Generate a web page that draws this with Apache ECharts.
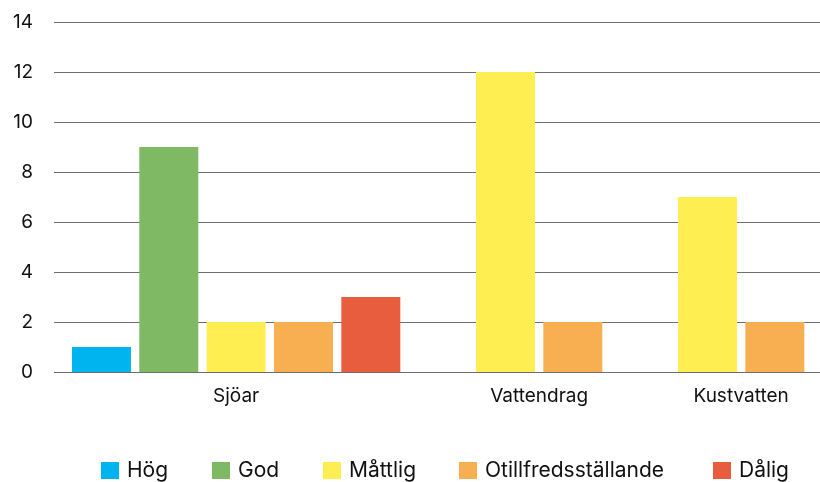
<!DOCTYPE html>
<html>
<head>
<meta charset="utf-8">
<script src="https://cdn.jsdelivr.net/npm/echarts@6/dist/echarts.min.js"></script>
<style>
  html, body { margin: 0; padding: 0; background: #fff; }
  #chart { width: 820px; height: 482px; }
</style>
</head>
<body>
<div id="chart"></div>
<script>
// Antal vattenförekomster per statusklass
const groups = ['Sjöar', 'Vattendrag', 'Kustvatten'];
const classes = ['Hög', 'God', 'Måttlig', 'Otillfredsställande', 'Dålig'];
const hog = [1, null, null];
const god = [9, null, null];
const mattlig = [2, 12, 7];
const otillfreds = [2, 2, 2];
const dalig = [3, null, null];
const yTicks = [0, 2, 4, 6, 8, 10, 12, 14];

const colors = ['#00B5EF', '#80B963', '#FFEE52', '#F8AF51', '#E95D3F'];
const legendLefts = [101, 212, 323, 459, 713];
const FONT = 'Inter';

const valuesByClass = [hog, god, mattlig, otillfreds, dalig];

// Each group only gets a slot for the classes it has, with an empty slot between groups
const slots = [];          // {cls, group}
const groupSpans = [];     // first/last slot index per group
groups.forEach((g, gi) => {
  const first = slots.length;
  valuesByClass.forEach((vals, ci) => {
    if (vals[gi] !== null) slots.push({ cls: ci, group: gi });
  });
  groupSpans.push([first, slots.length - 1]);
  if (gi < groups.length - 1) slots.push(null);
});

// Label axis has a tick at every half slot; group label sits at the middle of its slots
const labelPositions = new Array(slots.length * 2 + 1).fill('');
groupSpans.forEach(([a, b], gi) => { labelPositions[a + b + 1] = groups[gi]; });

const series = classes.map((name, ci) => ({
  name,
  type: 'bar',
  xAxisIndex: 1,
  yAxisIndex: 1,
  barGap: '-100%',
  barWidth: '87.6%',
  itemStyle: { color: colors[ci] },
  data: slots.map(s => (s && s.cls === ci) ? valuesByClass[ci][s.group] : null)
}));

// one legend entry per class, placed along the bottom
const legends = classes.map((name, i) => ({
  data: [name],
  left: legendLefts[i],
  top: 460,
  padding: 0,
  itemWidth: 18,
  itemHeight: 17,
  icon: 'rect',
  textStyle: { fontFamily: FONT, fontSize: 21, color: '#111', padding: [0, 0, 0, 3] }
}));

const chart = echarts.init(document.getElementById('chart'), null, { renderer: 'canvas' });
chart.setOption({
  animation: false,
  backgroundColor: '#ffffff',
  textStyle: { fontFamily: FONT },
  legend: legends,
  grid: [
    { left: 54, right: 0, top: 22, bottom: 110 },
    { left: 67.8, right: 11.5, top: 22, bottom: 110 }
  ],
  xAxis: [
    { type: 'category', gridIndex: 0, data: [''], show: false },
    { type: 'category', gridIndex: 1, data: slots.map((s, i) => String(i)), show: false },
    {
      type: 'category', gridIndex: 1, position: 'bottom', boundaryGap: false,
      data: labelPositions,
      axisLine: { show: false }, axisTick: { show: false },
      axisLabel: { interval: 0, margin: 15, fontFamily: FONT, fontSize: 19, color: '#111' }
    }
  ],
  yAxis: [
    {
      type: 'value', gridIndex: 0, min: yTicks[0], max: yTicks[yTicks.length - 1], interval: 2,
      axisLine: { show: false }, axisTick: { show: false },
      axisLabel: { margin: 21, fontFamily: FONT, fontSize: 19, color: '#111' },
      splitLine: { lineStyle: { color: '#6e6e6e', width: 1.2 } }
    },
    { type: 'value', gridIndex: 1, min: yTicks[0], max: yTicks[yTicks.length - 1], interval: 2, show: false }
  ],
  series
});
</script>
</body>
</html>
